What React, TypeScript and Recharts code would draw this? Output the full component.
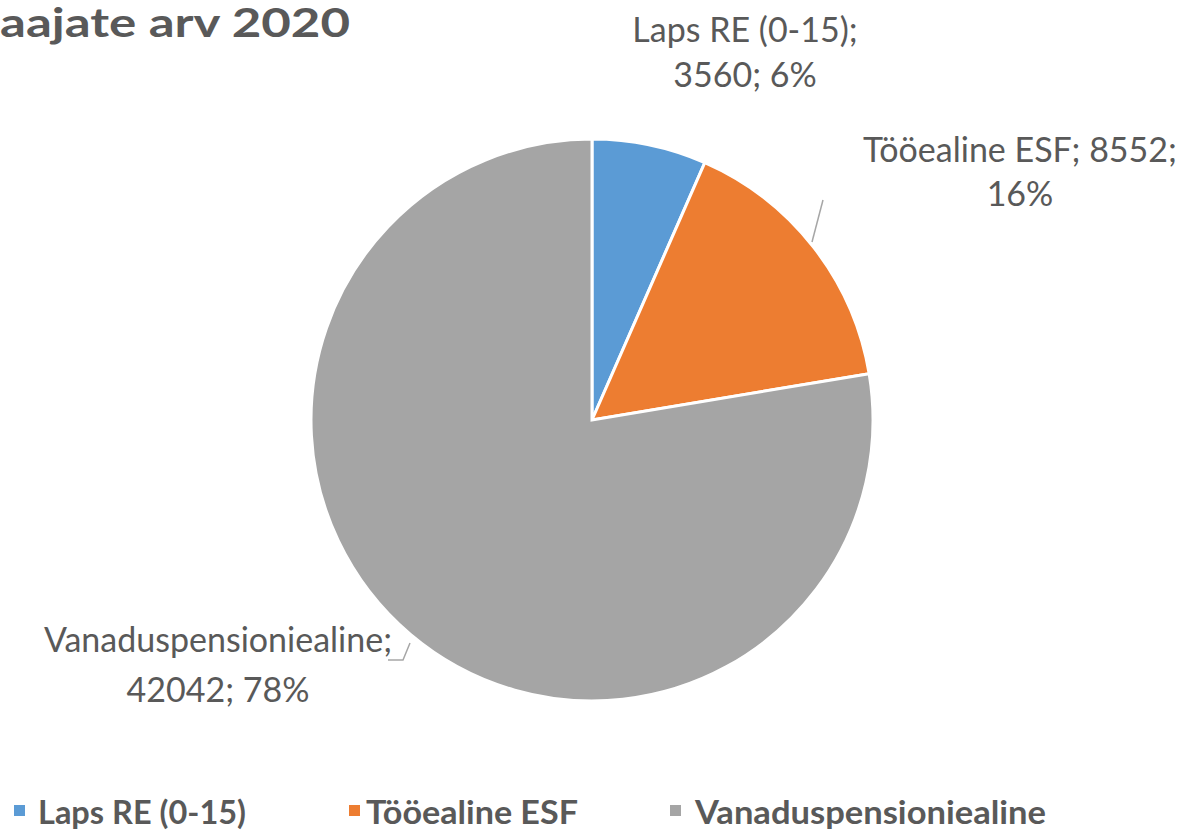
import React from "react";
import { PieChart, Pie, Cell, Legend } from "recharts";

const categories = ["Laps RE (0-15)", "Tööealine ESF", "Vanaduspensioniealine"];
const values = [3560, 8552, 42042];
const percents = ["6%", "16%", "78%"];
const colors = ["#5B9BD5", "#ED7D31", "#A5A5A5"];
const title = "aajate arv 2020";

const data = categories.map((name, i) => ({ name, value: values[i], pct: percents[i] }));

const FONT = "Lato, 'Open Sans', sans-serif";
const TXT = "#595959";

// label layout offsets relative to the pie centre (dx, and y-centre of each line)
const labelLayout = [
  { dx: 153, y: [-392, -347] },
  { dx: 428, y: [-272, -228] },
  { dx: -374, y: [218, 268] },
];

const leaders: number[][][] = [
  [],
  [[231, -220], [220, -178]],
  [[-204, 240], [-189, 240], [-182, 223]],
];

const renderLabel = (props: any) => {
  const { cx, cy, index, name, value, pct } = props;
  const lay = labelLayout[index];
  const lines =
    index === 1
      ? [`${name}; ${value};`, pct]
      : [`${name};`, `${value}; ${pct}`];
  const pts = leaders[index];
  return (
    <g key={`lbl-${index}`}>
      {pts.length > 1 && (
        <polyline
          points={pts.map((p) => `${cx + p[0]},${cy + p[1]}`).join(" ")}
          fill="none"
          stroke="#A6A6A6"
          strokeWidth={1.5}
        />
      )}
      {lines.map((l, j) => (
        <text
          key={j}
          x={cx + lay.dx}
          y={cy + lay.y[j]}
          textAnchor="middle"
          dominantBaseline="central"
          fill={TXT}
          fontSize={34}
          fontFamily={FONT}
        >
          {l}
        </text>
      ))}
    </g>
  );
};

const legendSquareX = [14, 349, 670];
const legendTextX = [38, 366, 695];
const legendTextW = [208, 212, 351];

const renderLegend = () => (
  <svg width={1182} height={44} style={{ display: "block" }}>
    {categories.map((c, i) => (
      <g key={c}>
        <rect x={legendSquareX[i]} y={15} width={11} height={11} fill={colors[i]} />
        <text
          x={legendTextX[i]}
          y={21}
          dominantBaseline="central"
          fontFamily={FONT}
          fontWeight={700}
          fontSize={33}
          fill={TXT}
          textLength={legendTextW[i]}
          lengthAdjust="spacingAndGlyphs"
        >
          {c}
        </text>
      </g>
    ))}
  </svg>
);

export default function App() {
  return (
    <div style={{ position: "absolute", left: 0, top: 0, width: 1182, height: 835, background: "#fff" }}>
      <PieChart width={1182} height={835} margin={{ top: 0, right: 0, bottom: 0, left: 0 }}>
        <Pie
          data={data}
          dataKey="value"
          nameKey="name"
          cx={592}
          cy={420}
          outerRadius={281}
          startAngle={90}
          endAngle={-270}
          stroke="#ffffff"
          strokeWidth={3}
          label={renderLabel}
          labelLine={false}
          isAnimationActive={false}
        >
          {data.map((d, i) => (
            <Cell key={d.name} fill={colors[i]} />
          ))}
        </Pie>
        <Legend
          content={renderLegend}
          wrapperStyle={{ position: "absolute", left: 0, top: 790, width: 1182 }}
        />
      </PieChart>
      <svg
        width={1182}
        height={60}
        style={{ position: "absolute", left: 0, top: 0, pointerEvents: "none" }}
      >
        <text
          x={0}
          y={37}
          fontFamily={FONT}
          fontWeight={700}
          fontSize={41}
          fill={TXT}
          textLength={350}
          lengthAdjust="spacingAndGlyphs"
        >
          {title}
        </text>
      </svg>
    </div>
  );
}
